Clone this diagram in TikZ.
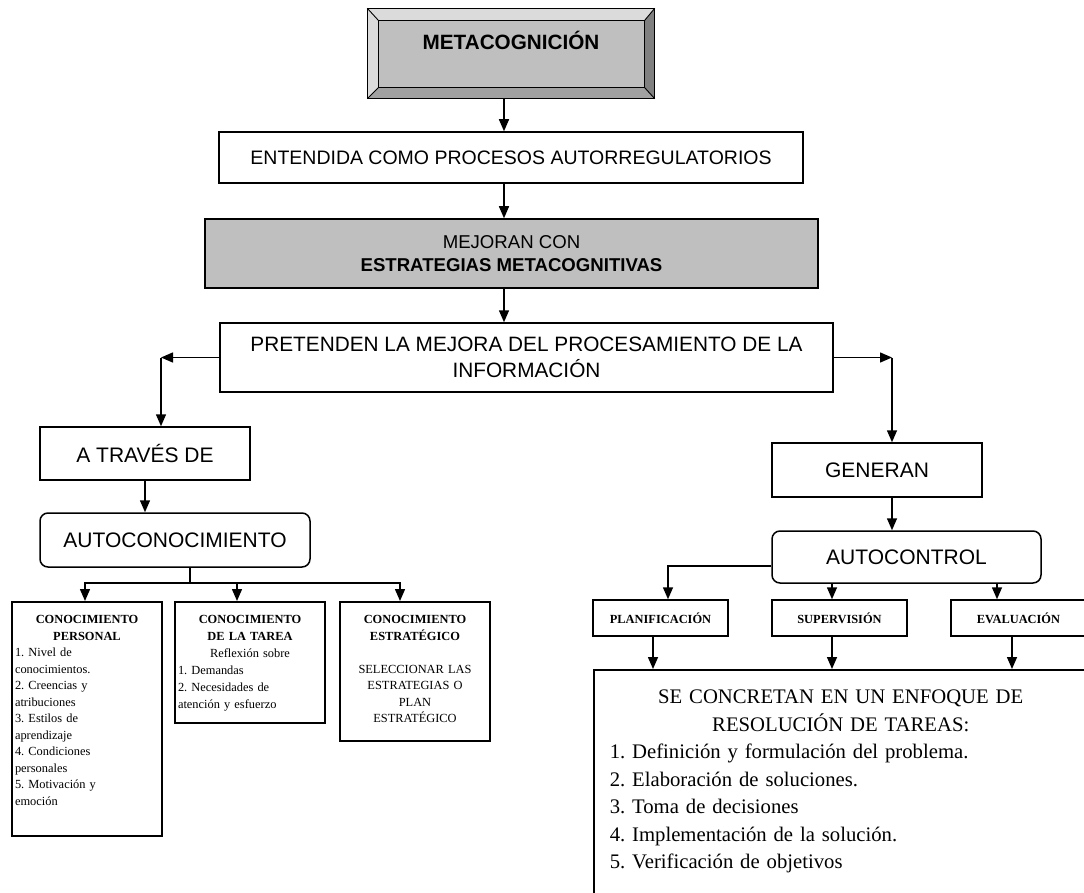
\documentclass[tikz,border=0pt]{standalone}
\usepackage{fontspec}
\setmainfont{Liberation Serif}
\newfontfamily\arialf{Liberation Sans}
\usetikzlibrary{arrows.meta}
\frenchspacing
\definecolor{cqcqcq}{rgb}{0.75,0.75,0.75}
\definecolor{dcdcdc}{rgb}{0.86,0.86,0.86}
\definecolor{aqaqaq}{rgb}{0.63,0.63,0.63}
\definecolor{sqsqsq}{rgb}{0.5,0.5,0.5}
\tikzset{
caja/.style={draw=black,line width=1.5pt,inner sep=0pt,align=center},
cajar/.style={caja,rounded corners=8pt},
texto/.style={draw=black,line width=1.5pt,inner xsep=3pt,inner ysep=0pt,text width=144pt,text height=22pt,anchor=north,font=\fontsize{12.4}{16.5}\selectfont},
fase/.style={caja,minimum width=135pt,minimum height=36pt,font=\bfseries\fontsize{12.4}{15}\selectfont},
flecha/.style={->,line width=1.5pt},
linea/.style={line width=1.5pt}
}

\begin{document}
\begin{tikzpicture}[x=1pt,y=-1pt,>={Triangle[length=12pt,width=10pt]}]
\useasboundingbox (0,0) rectangle (1084,893);
\clip (0,0) rectangle (1084,893);
\coordinate (eje) at (504,0);
\coordinate (izq) at (161,0);
\coordinate (der) at (892,0);
\coordinate (rama) at (190,583);
% caja superior
\node[caja,fill=cqcqcq,minimum width=286pt,text height=41pt,text depth=48pt,anchor=base,font=\arialf\bfseries\fontsize{20.7}{24}\selectfont] (meta) at (511,50) {METACOGNICIÓN};
\coordinate (mnw) at ([xshift=11pt,yshift=-12pt]meta.north west);
\coordinate (mne) at ([xshift=-10pt,yshift=-12pt]meta.north east);
\coordinate (mse) at ([xshift=-10pt,yshift=11pt]meta.south east);
\coordinate (msw) at ([xshift=11pt,yshift=11pt]meta.south west);
\fill[dcdcdc] (meta.north west) -- (meta.north east) -- (mne) -- (mnw) -- cycle;
\fill[dcdcdc] (meta.north west) -- (mnw) -- (msw) -- (meta.south west) -- cycle;
\fill[aqaqaq] (meta.south west) -- (msw) -- (mse) -- (meta.south east) -- cycle;
\fill[sqsqsq] (meta.north east) -- (mne) -- (mse) -- (meta.south east) -- cycle;
\draw[line width=0.9pt] (mnw) rectangle (mse);
\draw[line width=0.9pt] (meta.north west) -- (mnw) (meta.north east) -- (mne) (meta.south east) -- (mse) (meta.south west) -- (msw);
\draw[line width=1.2pt] (meta.north west) rectangle (meta.south east);
% columna central
\node[caja,minimum width=584pt,minimum height=51pt,font=\arialf\fontsize{19.5}{23}\selectfont] (ent) at (511,157.5) {ENTENDIDA COMO PROCESOS AUTORREGULATORIOS};
\node[caja,fill=cqcqcq,minimum width=613pt,minimum height=69pt,font=\arialf\fontsize{18.6}{23}\selectfont] (mej) at (511.5,253.5) {MEJORAN CON\\\textbf{ESTRATEGIAS METACOGNITIVAS}};
\node[caja,minimum width=613pt,minimum height=69pt,font=\arialf\fontsize{20.8}{26}\selectfont] (pret) at (526.5,357.5) {PRETENDEN LA MEJORA DEL PROCESAMIENTO DE LA\\INFORMACIÓN};
\draw[flecha] (eje |- meta.south) -- (eje |- ent.north);
\draw[flecha] (eje |- ent.south) -- (eje |- mej.north);
\draw[flecha] (eje |- mej.south) -- (eje |- pret.north);
% rama izquierda
\node[caja,minimum width=210pt,minimum height=53pt,font=\arialf\fontsize{21}{25}\selectfont] (atr) at (145,453.5) {A TRAVÉS DE};
\node[cajar,minimum width=270pt,minimum height=54pt,font=\arialf\fontsize{21}{25}\selectfont] (autoc) at (175,540) {AUTOCONOCIMIENTO};
\node[texto,text depth=212pt] (per) at (87,601) {{\centering\textbf{CONOCIMIENTO}\\\textbf{PERSONAL}\par}\raggedright 1. Nivel de\\conocimientos.\\2. Creencias y\\atribuciones\\3. Estilos de\\aprendizaje\\4. Condiciones\\personales\\5. Motivación y\\emoción};
\node[texto,text depth=99pt,font=\fontsize{12.4}{17}\selectfont] (tarea) at (250,601) {{\centering\textbf{CONOCIMIENTO}\\\textbf{DE LA TAREA}\\Reflexión sobre\par}\raggedright 1. Demandas\\2. Necesidades de\\atención y esfuerzo};
\node[texto,text depth=117pt] (est) at (415,601) {{\centering\textbf{CONOCIMIENTO}\\\textbf{ESTRATÉGICO}\\[16.5pt]SELECCIONAR LAS\\ESTRATEGIAS O\\PLAN\\ESTRATÉGICO\par}};
\draw[flecha] (pret.west) -- (pret.west -| izq);
\draw[flecha] (pret.west -| izq) -- (izq |- atr.north);
\draw[flecha] (atr.south) -- (atr.south |- autoc.north);
\draw[linea] (rama |- autoc.south) -- (rama);
\draw[flecha] (rama) -| ([xshift=-2pt]per.north);
\draw[flecha] (rama) -| ([xshift=-13pt]tarea.north);
\draw[flecha] (rama) -| ([xshift=-15pt]est.north);
% rama derecha
\node[caja,minimum width=210pt,minimum height=54pt,font=\arialf\fontsize{21}{25}\selectfont] (gen) at (877,470) {GENERAN};
\node[cajar,minimum width=269pt,minimum height=52pt,font=\arialf\fontsize{21}{25}\selectfont] (actl) at (906.5,557) {AUTOCONTROL};
\node[fase] (pla) at (660.5,618) {PLANIFICACIÓN};
\node[fase] (sup) at (839.5,618) {SUPERVISIÓN};
\node[fase] (eva) at (1018.5,618) {EVALUACIÓN};
\node[draw=black,line width=1.5pt,anchor=north west,inner xsep=16pt,inner ysep=0pt,text width=462pt,text height=34pt,text depth=240pt,font=\fontsize{20.7}{27.5}\selectfont] (resol) at (593,669) {{\centering SE CONCRETAN EN UN ENFOQUE DE\\RESOLUCIÓN DE TAREAS:\par}\raggedright 1. Definición y formulación del problema.\\2. Elaboración de soluciones.\\3. Toma de decisiones\\4. Implementación de la solución.\\5. Verificación de objetivos};
\draw[flecha] (pret.east) -- (pret.east -| der);
\draw[flecha] (pret.east -| der) -- (der |- gen.north);
\draw[flecha] (der |- gen.south) -- (der |- actl.north);
\draw[flecha] ([yshift=-9pt]actl.west) -| ([xshift=7.5pt]pla.north);
\foreach \n/\x in {sup/832,eva/997}
\draw[flecha] (\x,0 |- actl.south) -- (\x,0 |- \n.north);
\foreach \n/\x in {pla/653,sup/832,eva/1012}
\draw[flecha] (\x,0 |- \n.south) -- (\x,0 |- resol.north);
\end{tikzpicture}
\end{document}
